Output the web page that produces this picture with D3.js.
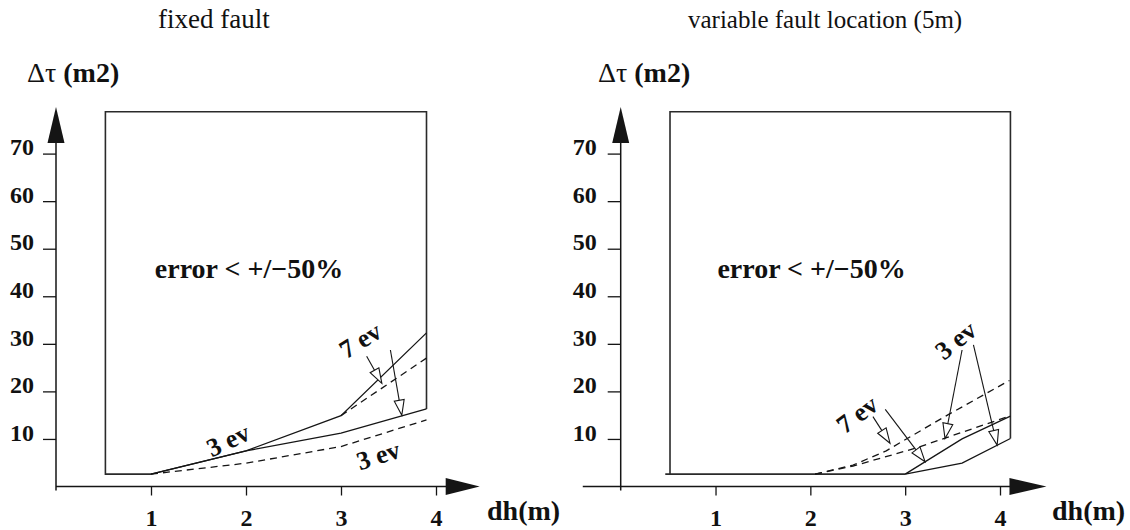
<!DOCTYPE html>
<html><head><meta charset="utf-8">
<script src="https://cdn.jsdelivr.net/npm/d3@7"></script>
<style>
body{margin:0;background:#fff}
text{font-family:"Liberation Serif","DejaVu Serif","Times New Roman",serif;fill:#111}
</style>
</head><body>
<svg id="c" width="1130" height="530"></svg>
<script>
// ---------- data ----------
const titles = ["fixed fault", "variable fault location (5m)"];
const yTicks = [10, 20, 30, 40, 50, 60, 70];
const xTicks = [1, 2, 3, 4];
const regionLabel = "error < +/\u221250%";

// left panel (fixed fault)
const leftRegionDh   = [1.0, 0.52, 0.52, 3.9, 3.9];
const leftRegionVal  = [2.6, 2.6, 78.8, 78.8, 16.3];
const leftSolidADh   = [1.0, 2.0, 3.0, 3.9];
const leftSolidAVal  = [2.6, 7.5, 14.9, 32.3];
const leftSolidBDh   = [1.0, 2.0, 3.0, 3.9];
const leftSolidBVal  = [2.6, 7.5, 11.2, 16.3];
const leftDashADh    = [3.0, 3.9];
const leftDashAVal   = [14.9, 27.0];
const leftDashBDh    = [1.0, 2.0, 3.0, 3.9];
const leftDashBVal   = [2.6, 4.9, 8.4, 14.0];
const leftLabels     = ["3 ev", "3 ev", "7 ev"];
const leftLabelDh    = [1.81, 3.39, 3.2];
const leftLabelVal   = [9.8, 6.6, 30.8];
const leftLabelRot   = [-25, -18, -32];
const leftArrowFrom  = [[3.27, 27.4], [3.52, 28.7]];
const leftArrowTo    = [[3.43, 21.7], [3.64, 15.0]];

// right panel (variable fault location)
const rightRegionDh  = [3.0, 0.47, 0.52, 0.52, 4.11, 4.11];
const rightRegionVal = [2.6, 2.6, 2.6, 78.8, 78.8, 10.1];
const rightSolidADh  = [3.0, 3.6, 4.11];
const rightSolidAVal = [2.6, 10.0, 14.8];
const rightSolidBDh  = [3.0, 3.6, 4.11];
const rightSolidBVal = [2.6, 4.9, 10.1];
const rightDashADh   = [2.05, 2.45, 2.8, 3.4, 4.1];
const rightDashAVal  = [2.6, 4.5, 7.5, 14.5, 22.3];
const rightDashBDh   = [2.05, 2.45, 3.1, 4.1];
const rightDashBVal  = [2.6, 4.3, 8.0, 14.8];
const rightLabels    = ["7 ev", "3 ev"];
const rightLabelDh   = [2.49, 3.53];
const rightLabelVal  = [15.2, 30.8];
const rightLabelRot  = [-37, -39];
const rightArrowFrom = [[2.66, 14.7], [2.79, 16.2], [3.6, 28.7], [3.72, 29.8]];
const rightArrowTo   = [[2.84, 9.1], [3.21, 5.2], [3.42, 10.1], [3.97, 8.7]];

// ---------- drawing ----------
const svg = d3.select("#c");
const INK = "#151515";
const SERIF = "'Liberation Serif','DejaVu Serif',serif";
const zip = (a, b) => a.map((v, i) => [v, b[i]]);

function panel(o) {
  const x = d3.scaleLinear().domain([0, 4]).range(o.xr);
  const y = d3.scaleLinear().domain([0, 70]).range([486.5, 153.6]);
  const g = svg.append("g");
  const line = d3.line().x(d => x(d[0])).y(d => y(d[1]));

  // title
  g.append("text").attr("x", o.titleX).attr("y", 28)
    .style("font-size", o.titleSize + "px").text(o.title);
  // y label
  const yl = g.append("text").attr("x", o.yLabX).attr("y", 82).style("font-size", "28px");
  yl.append("tspan").text("\u0394\u03c4" + o.gap);
  yl.append("tspan").style("font-weight", "bold").text("(m2)");

  // axes lines
  const ax = x(0), ay = y(0);
  g.append("line").attr("x1", x(o.xStart)).attr("x2", x(o.xTip) - 30)
    .attr("y1", ay).attr("y2", ay).attr("stroke", INK).attr("stroke-width", 1.5);
  g.append("path").attr("d", d3.line()([[x(o.xTip), ay], [x(o.xTip) - o.xArrowLen, ay - 8.5], [x(o.xTip) - o.xArrowLen, ay + 8.5]]) + "Z")
    .attr("fill", INK);
  const yTip = y(79.8);
  g.append("line").attr("x1", ax).attr("x2", ax).attr("y1", ay + 4).attr("y2", yTip + 30)
    .attr("stroke", INK).attr("stroke-width", 1.5);
  g.append("path").attr("d", d3.line()([[ax, yTip], [ax - 8.5, yTip + 36], [ax + 8.5, yTip + 36]]) + "Z")
    .attr("fill", INK);

  // y ticks
  const ya = g.append("g").attr("transform", `translate(${ax},0)`)
    .call(d3.axisLeft(y).tickValues(yTicks).tickSize(13).tickPadding(o.yPad).tickFormat(d3.format("d")));
  ya.attr("font-family", null).attr("font-size", null);
  ya.select(".domain").remove();
  ya.selectAll("line").attr("stroke", INK).attr("stroke-width", 1.3);
  ya.selectAll("text").attr("dy", "0.05em").style("font-size", "24px").style("font-weight", "bold")
    .style("font-family", SERIF).attr("fill", INK);

  // x ticks
  const xa = g.append("g").attr("transform", `translate(0,${ay})`)
    .call(d3.axisBottom(x).tickValues(xTicks).tickSize(9).tickPadding(13).tickFormat(d3.format("d")));
  xa.attr("font-family", null).attr("font-size", null);
  xa.select(".domain").remove();
  xa.selectAll("line").attr("stroke", INK).attr("stroke-width", 1.3);
  xa.selectAll("text").style("font-size", "24px").style("font-weight", "bold")
    .style("font-family", SERIF).attr("fill", INK);

  // x label
  g.append("text").attr("x", o.xLabX).attr("y", 520).style("font-size", "28px")
    .style("font-weight", "bold").text("dh(m)");

  // region box
  g.append("path").attr("d", line(zip(o.regionDh, o.regionVal)))
    .attr("fill", "none").attr("stroke", "#2a2a2a").attr("stroke-width", 1.6);
  g.append("text").attr("x", x(o.errX)).attr("y", 278).style("font-size", "28px")
    .style("font-weight", "bold").text(regionLabel);

  // curves
  o.solids.forEach(s => g.append("path").attr("d", line(s)).attr("fill", "none")
    .attr("stroke", INK).attr("stroke-width", 1.3));
  o.dashes.forEach(s => g.append("path").attr("d", line(s)).attr("fill", "none")
    .attr("stroke", INK).attr("stroke-width", 1.3).attr("stroke-dasharray", "7,5"));

  // labels
  o.labels.forEach((t, i) => {
    g.append("text").attr("transform", `translate(${x(o.labDh[i])},${y(o.labVal[i])}) rotate(${o.labRot[i]})`)
      .attr("text-anchor", "middle").attr("dy", "0.35em").style("font-size", "26px")
      .style("font-weight", "bold").text(t);
  });

  // hollow arrows
  o.arrFrom.forEach((f, i) => {
    const t = o.arrTo[i];
    const x1 = x(f[0]), y1 = y(f[1]), x2 = x(t[0]), y2 = y(t[1]);
    const dx = x2 - x1, dy = y2 - y1, L = Math.hypot(dx, dy);
    const ux = dx / L, uy = dy / L, hl = 15, hw = 5;
    const bx = x2 - ux * hl, by = y2 - uy * hl;
    g.append("line").attr("x1", x1).attr("y1", y1).attr("x2", bx).attr("y2", by)
      .attr("stroke", INK).attr("stroke-width", 1.1);
    g.append("path").attr("d", d3.line()([[x2, y2], [bx - uy * hw, by + ux * hw], [bx + uy * hw, by - ux * hw]]) + "Z")
      .attr("fill", "#fff").attr("stroke", INK).attr("stroke-width", 1.1);
  });
}

panel({
  xr: [56, 436], title: titles[0], titleX: 158, titleSize: 27, yLabX: 27, gap: "  ",
  xStart: 0, xTip: 4.46, xArrowLen: 34, yPad: 9, xLabX: 487, errX: 1.04,
  regionDh: leftRegionDh, regionVal: leftRegionVal,
  solids: [zip(leftSolidADh, leftSolidAVal), zip(leftSolidBDh, leftSolidBVal)],
  dashes: [zip(leftDashADh, leftDashAVal), zip(leftDashBDh, leftDashBVal)],
  labels: leftLabels, labDh: leftLabelDh, labVal: leftLabelVal, labRot: leftLabelRot,
  arrFrom: leftArrowFrom, arrTo: leftArrowTo
});
panel({
  xr: [620.7, 1000], title: titles[1], titleX: 688, titleSize: 25, yLabX: 598, gap: " ",
  xStart: -0.4, xTip: 4.49, xArrowLen: 37, yPad: 11, xLabX: 1052, errX: 1.02,
  regionDh: rightRegionDh, regionVal: rightRegionVal,
  solids: [zip(rightSolidADh, rightSolidAVal), zip(rightSolidBDh, rightSolidBVal)],
  dashes: [zip(rightDashADh, rightDashAVal), zip(rightDashBDh, rightDashBVal)],
  labels: rightLabels, labDh: rightLabelDh, labVal: rightLabelVal, labRot: rightLabelRot,
  arrFrom: rightArrowFrom, arrTo: rightArrowTo
});
</script>
</body></html>
